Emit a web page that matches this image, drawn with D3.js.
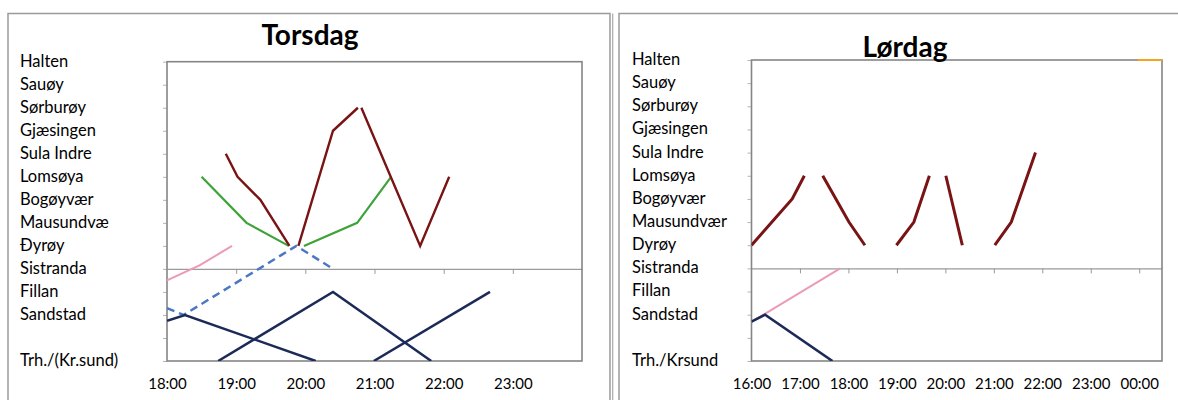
<!DOCTYPE html>
<html>
<head>
<meta charset="utf-8">
<script src="https://cdn.jsdelivr.net/npm/d3@7"></script>
<style>
  html, body { margin: 0; padding: 0; background: #fff; }
  svg { display: block; }
  text { font-family: Lato, "Open Sans", sans-serif; fill: #000; }
</style>
</head>
<body>
<svg id="chart" width="1178" height="400"></svg>
<script>
// ---------- DATA ----------
const torsdagStations = ["Halten","Sauøy","Sørburøy","Gjæsingen","Sula Indre","Lomsøya","Bogøyvær","Mausundvæ","Ðyrøy","Sistranda","Fillan","Sandstad","Trh./(Kr.sund)"];
const lordagStations  = ["Halten","Sauøy","Sørburøy","Gjæsingen","Sula Indre","Lomsøya","Bogøyvær","Mausundvær","Dyrøy","Sistranda","Fillan","Sandstad","Trh./Krsund"];
const stationLevels   = [13,12,11,10,9,8,7,6,5,4,3,2,0];
const levelTicks      = [0,1,2,3,4,5,6,7,8,9,10,11,12,13];

const torsdagHours = [18,19,20,21,22,23];
const torsdagHourLabels = ["18:00","19:00","20:00","21:00","22:00","23:00"];
const lordagHours = [16,17,18,19,20,21,22,23,24];
const lordagHourLabels = ["16:00","17:00","18:00","19:00","20:00","21:00","22:00","23:00","00:00"];

// Torsdag series: [hour, station level]
const tRed1   = [[18.85,9],[19.02,8],[19.35,7],[19.77,5]];
const tRed2   = [[19.90,5],[20.40,10],[20.76,11]];
const tRed3   = [[20.81,11],[21.66,5],[22.08,8]];
const tGreen1 = [[18.50,8],[19.15,6],[19.76,5]];
const tGreen2 = [[19.98,5],[20.75,6],[21.24,8]];
const tPink   = [[18.00,3.5],[18.47,4.15],[18.94,5]];
const tDash   = [[18.00,2.3],[18.24,2],[19.87,5],[20.40,4]];
const tNavy1  = [[18.00,1.75],[18.26,2],[20.15,0]];
const tNavy2  = [[18.74,0],[20.40,3],[21.82,0]];
const tNavy3  = [[20.99,0],[22.67,3]];

// Lørdag series
const lRed1   = [[16.00,5],[16.84,7],[17.09,8]];
const lRed2   = [[17.47,8],[18.01,6],[18.34,5]];
const lRed3   = [[18.99,5],[19.35,6],[19.67,8]];
const lRed4   = [[20.01,8],[20.35,5]];
const lRed5   = [[21.02,5],[21.36,6],[21.86,9]];
const lOrange = [[23.97,13],[24.47,13]];
const lPink   = [[16.00,1.7],[16.25,2],[17.83,4]];
const lNavy   = [[16.00,1.7],[16.28,2],[17.67,0]];

// ---------- STYLES ----------
const C = { red:"#7a1414", green:"#3ea33a", pink:"#eb9bb8", blue:"#4a78c4", navy:"#1c2a58", orange:"#f2a51e" };

const svg = d3.select("#chart");

// frames
svg.append("rect").attr("x",8).attr("y",13.5).attr("width",602).attr("height",400)
  .attr("fill","none").attr("stroke","#9a9a9a").attr("stroke-width",1.5);
svg.append("line").attr("x1",612.7).attr("x2",612.7).attr("y1",13.5).attr("y2",400)
  .attr("stroke","#a8a8a8").attr("stroke-width",1.2);
svg.append("rect").attr("x",619).attr("y",13.5).attr("width",600).attr("height",400)
  .attr("fill","none").attr("stroke","#9a9a9a").attr("stroke-width",1.5);

function panel(cfg) {
  const x = d3.scaleLinear().domain(cfg.xDomain).range([cfg.left, cfg.right]);
  const y = d3.scaleLinear().domain([0,13]).range([cfg.bottom, cfg.top]);
  const g = svg.append("g");
  const clipId = "clip" + cfg.id;
  svg.append("clipPath").attr("id", clipId).append("rect")
    .attr("x", cfg.left).attr("y", cfg.top - 2).attr("width", cfg.right - cfg.left).attr("height", cfg.bottom - cfg.top + 2);

  // y ticks
  const ya = g.append("g").attr("transform", `translate(${cfg.left},0)`)
    .call(d3.axisLeft(y).tickValues(levelTicks).tickSize(4).tickSizeOuter(0).tickFormat(""));
  ya.select(".domain").remove();
  ya.selectAll("line").attr("stroke", "#b5b5b5");

  // crossing axis at Sistranda level with ticks
  const xa = g.append("g").attr("transform", `translate(0,${y(4)})`)
    .call(d3.axisBottom(x).tickValues(cfg.innerTicks).tickSize(5).tickSizeOuter(0).tickFormat(""));
  xa.select(".domain").attr("stroke", "#9a9a9a").attr("stroke-width", 1.2);
  xa.selectAll(".tick line").attr("stroke", "#999");

  // plot border
  g.append("rect").attr("x", cfg.left).attr("y", cfg.top).attr("width", cfg.right - cfg.left)
    .attr("height", cfg.bottom - cfg.top).attr("fill", "none").attr("stroke", "#858585").attr("stroke-width", 1.6);

  // hour labels
  const la = g.append("g").attr("transform", `translate(0,${cfg.bottom})`)
    .call(d3.axisBottom(x).tickValues(cfg.hours).tickSize(0).tickPadding(17)
      .tickFormat((d,i) => cfg.hourLabels[i]));
  la.select(".domain").remove();
  la.selectAll("text").style("font-family","Lato, sans-serif").style("font-size","15px").attr("fill","#000");

  // station labels
  g.selectAll(".st").data(cfg.stations).join("text")
    .attr("x", cfg.labelX).attr("y", (d,i) => y(stationLevels[i])).attr("dy","0.3em")
    .style("font-size","16.5px").text(d => d);

  // title
  g.append("text").attr("x", cfg.titleX).attr("y", cfg.titleY).attr("text-anchor","middle")
    .style("font-size","28px").style("font-weight","bold").text(cfg.title);

  // lines
  const line = d3.line().x(d => x(d[0])).y(d => y(d[1]));
  const lg = g.append("g").attr("clip-path", `url(#${clipId})`);
  cfg.series.forEach(s => {
    lg.append("path").datum(s.data).attr("d", line).attr("fill","none")
      .attr("stroke", s.color).attr("stroke-width", s.width)
      .attr("stroke-dasharray", s.dash || null)
      .attr("stroke-linejoin","miter");
  });
}

panel({
  id: "T", title: "Torsdag", titleX: 310, titleY: 45,
  xDomain: [18, 24], left: 167, right: 582, top: 61.7, bottom: 361,
  innerTicks: [19,20,21,22,23], hours: torsdagHours, hourLabels: torsdagHourLabels,
  stations: torsdagStations, labelX: 20,
  series: [
    {data: tPink, color: C.pink, width: 2},
    {data: tDash, color: C.blue, width: 2.5, dash: "8,5"},
    {data: tNavy1, color: C.navy, width: 2.5},
    {data: tNavy2, color: C.navy, width: 2.5},
    {data: tNavy3, color: C.navy, width: 2.5},
    {data: tGreen1, color: C.green, width: 2.2},
    {data: tGreen2, color: C.green, width: 2.2},
    {data: tRed1, color: C.red, width: 2.4},
    {data: tRed2, color: C.red, width: 2.4},
    {data: tRed3, color: C.red, width: 2.4}
  ]
});

panel({
  id: "L", title: "Lørdag", titleX: 905, titleY: 57,
  xDomain: [16, 24.47], left: 751.5, right: 1162, top: 60, bottom: 361,
  innerTicks: [17,18,19,20,21,22,23,24], hours: lordagHours, hourLabels: lordagHourLabels,
  stations: lordagStations, labelX: 632,
  series: [
    {data: lPink, color: C.pink, width: 2},
    {data: lNavy, color: C.navy, width: 2.6},
    {data: lOrange, color: C.orange, width: 2},
    {data: lRed1, color: C.red, width: 3},
    {data: lRed2, color: C.red, width: 3},
    {data: lRed3, color: C.red, width: 3},
    {data: lRed4, color: C.red, width: 3},
    {data: lRed5, color: C.red, width: 3}
  ]
});
</script>
</body>
</html>
